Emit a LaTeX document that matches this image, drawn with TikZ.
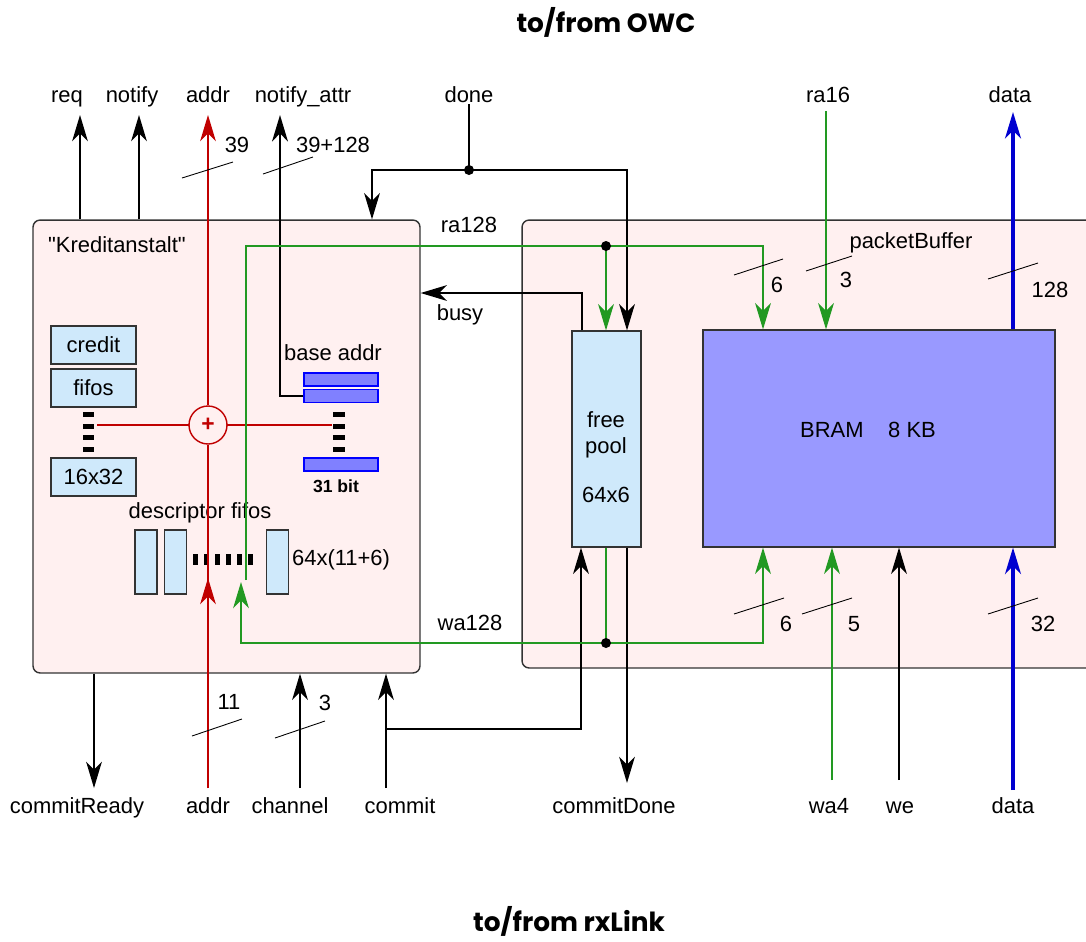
\documentclass[tikz,border=0pt]{standalone}
\usepackage{fontspec}
\setmainfont{Liberation Sans}
\newfontfamily\rawfont{Liberation Sans}
\newfontfamily\titlefont{Poppins}
\usetikzlibrary{arrows.meta}
\definecolor{kbpink}{HTML}{FFF0F0}
\definecolor{fifoblue}{HTML}{CFE9FB}
\definecolor{regblue}{HTML}{8080FF}
\definecolor{bramblue}{HTML}{9999FF}
\definecolor{addrred}{HTML}{C00000}
\definecolor{ragreen}{HTML}{229922}
\definecolor{databus}{HTML}{0000D0}
\newcommand{\lblfont}{\fontsize{12.5pt}{14pt}\selectfont}

\begin{document}
\begin{tikzpicture}[
  x=0.02cm, y=-0.02cm,
  every node/.style={font=\lblfont, inner sep=1pt},
  block/.style={rectangle, rounded corners=4pt, draw=black!80,
                fill=kbpink, line width=0.8pt},
  cell/.style={rectangle, draw=black!80, fill=fifoblue, line width=0.7pt,
               minimum width=1.7cm, minimum height=0.76cm},
  slot/.style={rectangle, draw=black!80, fill=fifoblue, line width=0.7pt,
               minimum width=0.44cm, minimum height=1.28cm},
  reg/.style={rectangle, draw=blue, fill=regblue, line width=0.6pt,
              minimum width=1.48cm, minimum height=0.26cm},
  title/.style={font=\titlefont\bfseries\fontsize{15pt}{18pt}\selectfont},
  pin/.style={anchor=base},
  arr/.style={-{Stealth[length=15pt, width=9pt, inset=4.5pt]},
              line width=0.8pt, #1},
  arr/.default=black,
  wire/.style={line width=0.8pt, #1},
  wire/.default=black,
  slash/.style={line width=0.5pt}
]
\useasboundingbox (0,0) rectangle (1086,941);
\clip (0,0) rectangle (1086,941);

% === Titles ===
\node[title] (owc) at (606,22) {to/from OWC};
\node[title] (rxl) at (569,921) {to/from rxLink};

% === The two blocks ===
\node[block, minimum width=7.74cm, minimum height=9.06cm] (kredit) at (226.5,446.5) {};
\node[block, minimum width=11.76cm, minimum height=8.96cm] (pbuf) at (816,444) {};
\node[anchor=west] at (46,245) {{\rawfont"}Kreditanstalt{\rawfont"}};
\node (pbufname) at (911,243) {packetBuffer};

% === Credit fifos ===
\node[cell] (credit) at (93.5,345) {credit};
\node[cell] (fifos)  at (93.5,388) {fifos};
\node[cell] (fsize)  at (93.5,477) {16x32};
\foreach \i in {0,...,3}
  \fill (83,412+11.5*\i) rectangle ++(11,5);

% === Base address registers ===
\node (baselbl) at (333,353) {base addr};
\node[reg] (bar1) at (341,379.5) {};
\node[reg] (bar2) at (341,396) {};
\node[reg] (bar3) at (341,464.5) {};
\foreach \i in {0,...,3}
  \fill (333,412+11.5*\i) rectangle ++(12,5);
\node[font=\bfseries\fontsize{10pt}{12pt}\selectfont] (bits) at (336,486) {31 bit};

% === Descriptor fifos ===
\node (desclbl) at (200,513) {descriptor fifos};
\node[slot] (desc1) at (146,562) {};
\node[slot] (desc2) at (175.5,562) {};
\node[slot] (desc3) at (277.5,562) {};
\foreach \i in {0,...,5}
  \fill (193+11*\i,554) rectangle ++(5,11);
\node[anchor=west] (descsize) at (290,560) {64x(11+6)};

% === Free pool and BRAM ===
\node[rectangle, draw=black!80, fill=fifoblue, line width=0.7pt,
      minimum width=1.38cm, minimum height=4.32cm] (pool) at (606.5,439) {};
\node[align=center] at (606,457) {free\\[1pt]pool\\[14pt]64x6};
\node[rectangle, draw=black!80, fill=bramblue, line width=0.7pt,
      minimum width=7.04cm, minimum height=4.34cm] (bram) at (879,438.5) {};
\node at (868,430) {BRAM\hspace{14pt}8 KB};

% === Signal labels, top ===
\node[pin] (req)    at (67,102)  {req};
\node[pin] (notify) at (132,102) {notify};
\node[pin] (addrO)  at (208,102) {addr};
\node[pin] (nattr)  at (303,102) {notify\_attr};
\node[pin] (done)   at (469,102) {done};
\node[pin] (ra16)   at (828,102) {ra16};
\node[pin] (dataO)  at (1010,102) {data};

% === Signal labels, bottom ===
\node[pin] (cready) at (77,813)   {commitReady};
\node[pin] (addrI)  at (208,813)  {addr};
\node[pin] (chan)   at (290,813)  {channel};
\node[pin] (commit) at (400,813)  {commit};
\node[pin] (cdone)  at (614,813)  {commitDone};
\node[pin] (wa4)    at (829,813)  {wa4};
\node[pin] (we)     at (900,813)  {we};
\node[pin] (dataI)  at (1013,813) {data};

\node (ra128) at (469,225) {ra128};
\node (busy)  at (460,315) {busy};
\node (wa128) at (470,623) {wa128};

% === Free ends and corners of the connectors ===
\coordinate (reqEnd)   at (80,115);
\coordinate (notEnd)   at (139,115);
\coordinate (addrTop)  at (208,115);
\coordinate (attrEnd)  at (280,115);
\coordinate (addrBot)  at (208,788);
\coordinate (addrTip)  at (208,578);
\coordinate (doneJ)    at (469,170);
\coordinate (doneL)    at (372,170);
\coordinate (doneR)    at (627,170);
\coordinate (busyC)    at (582,293);
\coordinate (raStart)  at (246,580);
\coordinate (raCorner) at (246,246);
\coordinate (raRight)  at (763,246);
\coordinate (raJ)      at (606,246);
\coordinate (waTip)    at (241,582);
\coordinate (waL)      at (241,643);
\coordinate (waR)      at (763,643);
\coordinate (waJ)      at (606,643);
\coordinate (ra16Top)  at (826,111);
\coordinate (dataTop)  at (1013,112);
\coordinate (dataBot)  at (1013,790);
\coordinate (wa4Bot)   at (832,780);
\coordinate (weBot)    at (899,780);
\coordinate (crBot)    at (94,788);
\coordinate (chBot)    at (300,788);
\coordinate (cmBot)    at (386,788);
\coordinate (cmJ)      at (386,729);
\coordinate (cmR)      at (581,729);
\coordinate (cdBot)    at (627,783);
\coordinate (dotsL)    at (97,425);
\coordinate (dotsR)    at (332,425);

% === Kreditanstalt outputs and inputs ===
\draw[arr] (kredit.north -| reqEnd) -- (reqEnd);
\draw[arr] (kredit.north -| notEnd) -- (notEnd);
\draw[arr, line width=1.4pt] (bar2.west) -| (attrEnd);
\draw[arr] (kredit.south -| crBot) -- (crBot);
\draw[arr] (chBot) -- (chBot |- kredit.south);
\draw[arr] (cmBot) -- (cmBot |- kredit.south);
\draw[arr] (cmJ) -- (cmR) -- (cmR |- pool.south);
\draw[arr] (cdBot |- pool.south) -- (cdBot);

% === Address path with adder ===
\draw[wire=addrred, line width=0.7pt] (addrBot) -- (208,445);
\draw[arr=addrred, line width=0.7pt] (addrBot) -- (addrTip);
\draw[arr=addrred, line width=0.7pt] (208,405) -- (addrTop);
\draw[wire=addrred, line width=0.7pt] (dotsL) -- (dotsR);
\node[circle, draw=addrred, fill=kbpink, line width=0.8pt, minimum size=0.76cm,
      inner sep=0pt, font=\bfseries\fontsize{13pt}{13pt}\selectfont,
      text=addrred] (adder) at (208,425) {+};

% === done and busy ===
\draw[wire] (done.south) -- (doneJ);
\draw[arr] (doneJ) -- (doneL) -- (doneL |- kredit.north);
\draw[arr] (doneJ) -- (doneR) -- (doneR |- pool.north);
\fill (doneJ) circle[radius=0.1cm];
\draw[arr] (busyC |- pool.north) -- (busyC) -- (busyC -| kredit.east);

% === ra128 / wa128 ===
\draw[arr=ragreen] (raStart) -- (raCorner) -- (raRight) -- (raRight |- bram.north);
\draw[arr=ragreen] (raJ) -- (raJ |- pool.north);
\fill (raJ) circle[radius=0.1cm];
\draw[wire=ragreen] (waJ |- pool.south) -- (waJ);
\draw[arr=ragreen] (waJ) -- (waL) -- (waTip);
\draw[arr=ragreen] (waJ) -- (waR) -- (waR |- bram.south);
\fill[black] (waJ) circle[radius=0.1cm];

% === packetBuffer ports ===
\draw[arr=ragreen] (ra16Top) -- (ra16Top |- bram.north);
\draw[arr=ragreen] (wa4Bot) -- (wa4Bot |- bram.south);
\draw[arr] (weBot) -- (weBot |- bram.south);
\draw[arr=databus, line width=2.2pt] (dataTop |- bram.north) -- (dataTop);
\draw[arr=databus, line width=2.2pt] (dataBot) -- (dataBot |- bram.south);

% === Bus widths ===
\foreach \xa/\ya/\xb/\yb/\lx/\ly/\w in {
    182/178/233/162/237/145/39, 263/174/313/157/333/145/39+128,
    734/275/783/259/777/285/6, 806/271/852/256/846/280/3,
    988/279/1038/263/1050/290/128, 734/614/784/598/786/624/6,
    802/614/852/598/854/624/5, 988/614/1038/598/1043/624/32,
    192/736/242/719/229/702/11, 275/738/325/721/325/703/3}
{
  \draw[slash] (\xa,\ya) -- (\xb,\yb);
  \node at (\lx,\ly) {\w};
}

\end{tikzpicture}
\end{document}
